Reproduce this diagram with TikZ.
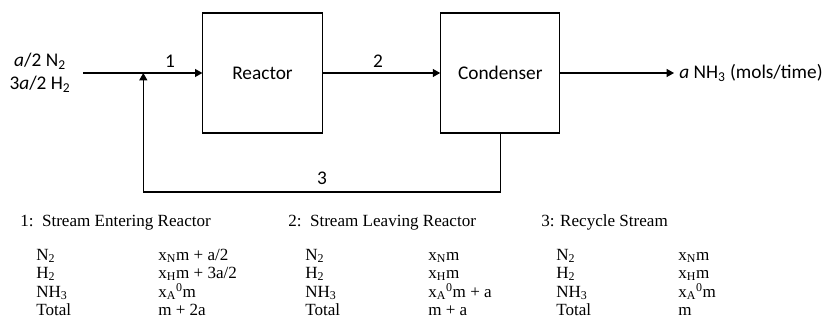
\documentclass[tikz,border=0pt]{standalone}
\usepackage{fontspec}
\setmainfont{Liberation Serif}
\newfontfamily\diagfont{Carlito}
\usetikzlibrary{arrows.meta}
\begin{document}
\begin{tikzpicture}[x=0.75pt,y=-0.75pt,
  flow/.style={line width=0.8pt,-{Triangle[length=5.5pt,width=6pt]}},
  pipe/.style={line width=0.8pt},
  unit/.style={draw,line width=0.8pt,inner sep=0pt,minimum width=89.4pt,minimum height=90pt,
    font=\diagfont\fontsize{14.5}{17}\selectfont},
  lbl/.style={inner sep=0pt,font=\diagfont\fontsize{14.5}{17}\selectfont},
  tab/.style={inner sep=0pt,anchor=base west,font=\fontsize{12.8}{15}\selectfont}]
\useasboundingbox (0,0) rectangle (832,324);

% process units
\node[unit] (reactor) at (262.5,73) {Reactor};
\node[unit] (condenser) at (500.3,73) {Condenser};

% feed, mixing point and product
\node[lbl,align=center] (feed) at (40,73) {\textit{a}/2 N\textsubscript{2}\\3\textit{a}/2 H\textsubscript{2}};
\coordinate (in) at (83,73);
\coordinate (mix) at (143.3,73);
\coordinate (rb) at (143.3,192);
\coordinate (cb) at (condenser.south |- rb);
\coordinate (out) at (674,73);
\node[lbl,anchor=west] (prod) at (679,73) {\textit{a} NH\textsubscript{3} (mols/time)};

% streams
\draw[flow] (in) -- (reactor.west);
\draw[flow] (reactor.east) -- (condenser.west);
\draw[flow] (condenser.east) -- (out);
\draw[pipe] (condenser.south) -- (cb) -- (rb);
\draw[flow] (rb) -- (mix);

% stream numbers
\node[lbl] (s1) at (170,61) {1};
\node[lbl] (s2) at (378,61) {2};
\node[lbl] (s3) at (322,178) {3};

% stream tables
\node[tab] (h1) at (20,227) {1:\ \ Stream Entering Reactor};
\node[tab] (a1) at (36,260) {N\textsubscript{2}};
\node[tab] (b1) at (36,278.5) {H\textsubscript{2}};
\node[tab] (c1) at (36,297) {NH\textsubscript{3}};
\node[tab] (d1) at (36,315.5) {Total};
\node[tab] (va1) at (158,260) {x\textsubscript{N}m + a/2};
\node[tab] (vb1) at (158,278.5) {x\textsubscript{H}m + 3a/2};
\node[tab] (vc1) at (158,297) {x\textsubscript{A}\textsuperscript{0}m};
\node[tab] (vd1) at (158,315.5) {m + 2a};

\node[tab] (h2) at (288,227) {2:\ \ Stream Leaving Reactor};
\node[tab] (a2) at (305,260) {N\textsubscript{2}};
\node[tab] (b2) at (305,278.5) {H\textsubscript{2}};
\node[tab] (c2) at (305,297) {NH\textsubscript{3}};
\node[tab] (d2) at (305,315.5) {Total};
\node[tab] (va2) at (428,260) {x\textsubscript{N}m};
\node[tab] (vb2) at (428,278.5) {x\textsubscript{H}m};
\node[tab] (vc2) at (428,297) {x\textsubscript{A}\textsuperscript{0}m + a};
\node[tab] (vd2) at (428,315.5) {m + a};

\node[tab] (h3) at (541,227) {3: Recycle Stream};
\node[tab] (a3) at (556,260) {N\textsubscript{2}};
\node[tab] (b3) at (556,278.5) {H\textsubscript{2}};
\node[tab] (c3) at (556,297) {NH\textsubscript{3}};
\node[tab] (d3) at (556,315.5) {Total};
\node[tab] (va3) at (678,260) {x\textsubscript{N}m};
\node[tab] (vb3) at (678,278.5) {x\textsubscript{H}m};
\node[tab] (vc3) at (678,297) {x\textsubscript{A}\textsuperscript{0}m};
\node[tab] (vd3) at (678,315.5) {m};
\end{tikzpicture}
\end{document}
